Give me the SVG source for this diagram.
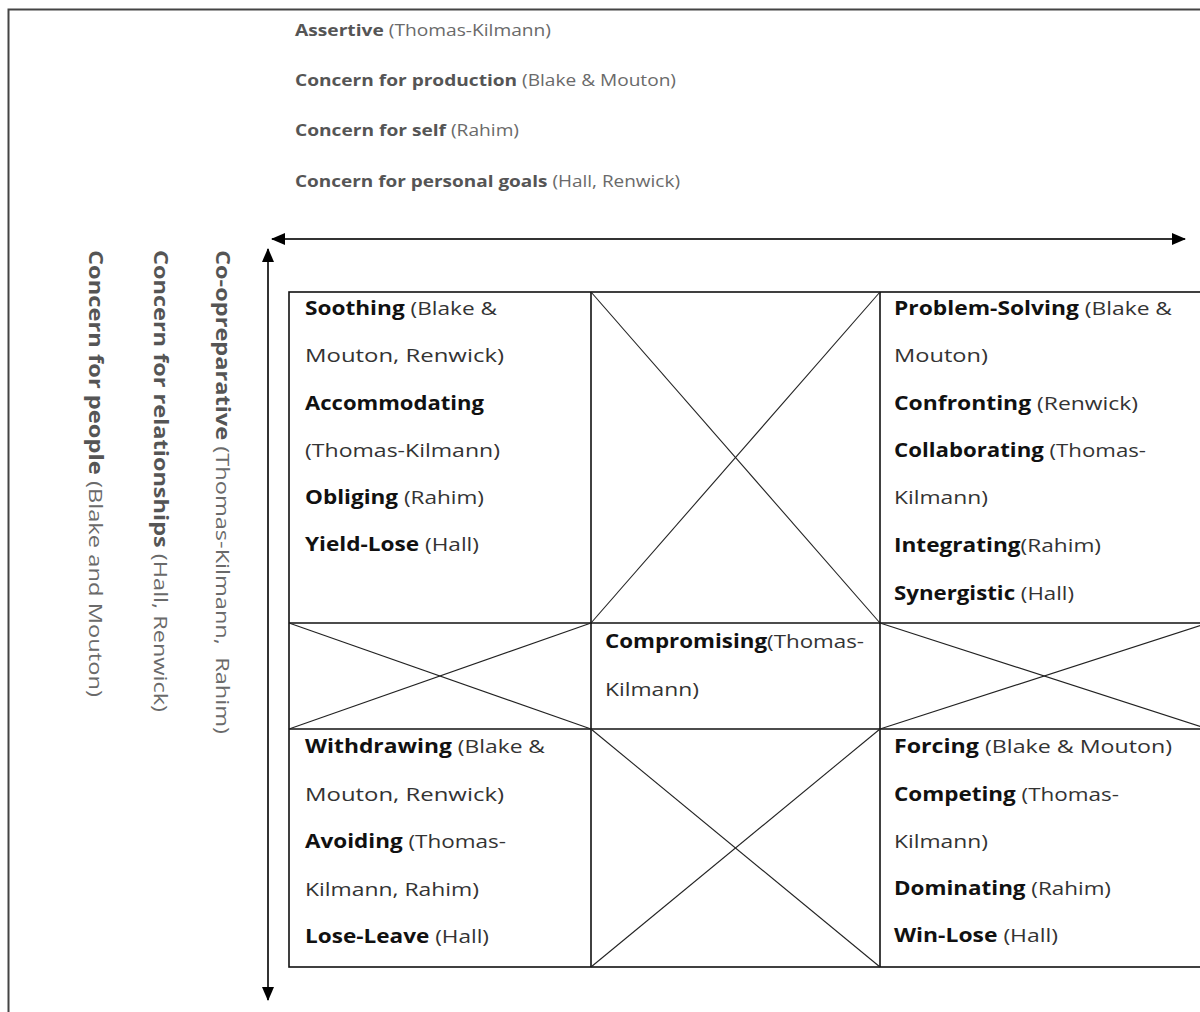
<svg xmlns="http://www.w3.org/2000/svg" width="1200" height="1012" viewBox="0 0 1200 1012">
<style>
.t{font-family:"Open Sans","Liberation Sans",sans-serif;font-size:19px;fill:#333;}
.b{font-weight:700;fill:#111;}
.lab{font-family:"Open Sans","Liberation Sans",sans-serif;font-size:16px;fill:#6a6a6a;}
.vl{font-family:"Open Sans","Liberation Sans",sans-serif;font-size:19px;fill:#6a6a6a;}
.lb{font-weight:700;fill:#555;}
.grid{fill:none;stroke:#111;stroke-width:1.6;}
.diag{stroke:#222;stroke-width:1.1;}
.axis{stroke:#333;stroke-width:2;fill:none;}
</style>
<defs>
<marker id="ah" viewBox="0 0 14 12" refX="13" refY="6" markerWidth="14" markerHeight="12" markerUnits="userSpaceOnUse" orient="auto-start-reverse">
<path d="M0,0 L14,6 L0,12 z" fill="#000"/>
</marker>
</defs>
<rect width="1200" height="1012" fill="#fff"/>
<rect x="8.5" y="9.5" width="1220" height="1030" fill="none" stroke="#444" stroke-width="2"/>

<g id="labels-top">
<text class="lab" x="295" y="36" textLength="256" lengthAdjust="spacingAndGlyphs"><tspan class="lb">Assertive</tspan> (Thomas-Kilmann)</text>
<text class="lab" x="295" y="86" textLength="381" lengthAdjust="spacingAndGlyphs"><tspan class="lb">Concern for production</tspan> (Blake &amp; Mouton)</text>
<text class="lab" x="295" y="136" textLength="224" lengthAdjust="spacingAndGlyphs"><tspan class="lb">Concern for self</tspan> (Rahim)</text>
<text class="lab" x="295" y="187" textLength="385" lengthAdjust="spacingAndGlyphs"><tspan class="lb">Concern for personal goals</tspan> (Hall, Renwick)</text>
</g>

<g id="labels-left">
<text class="vl" transform="translate(216,250) rotate(90)" x="0" y="0" textLength="484" lengthAdjust="spacingAndGlyphs"><tspan class="lb">Co-opreparative</tspan> (Thomas-Kilmann,&#160; Rahim)</text>
<text class="vl" transform="translate(154,250) rotate(90)" x="0" y="0" textLength="462" lengthAdjust="spacingAndGlyphs"><tspan class="lb">Concern for relationships</tspan> (Hall, Renwick)</text>
<text class="vl" transform="translate(89,250) rotate(90)" x="0" y="0" textLength="447" lengthAdjust="spacingAndGlyphs"><tspan class="lb">Concern for people</tspan> (Blake and Mouton)</text>
</g>

<g id="connectors">
<line class="axis" x1="272" y1="239" x2="1185" y2="239" marker-start="url(#ah)" marker-end="url(#ah)"/>
<line class="axis" x1="268" y1="249" x2="268" y2="1000" marker-start="url(#ah)" marker-end="url(#ah)"/>
</g>

<g id="grid">
<rect class="grid" x="289" y="292" width="919" height="675"/>
<line class="grid" x1="591" y1="292" x2="591" y2="967"/>
<line class="grid" x1="880" y1="292" x2="880" y2="967"/>
<line class="grid" x1="289" y1="623" x2="1208" y2="623"/>
<line class="grid" x1="289" y1="729" x2="1208" y2="729"/>
</g>

<g id="cross-top-middle">
<line class="diag" x1="591" y1="292" x2="880" y2="623"/>
<line class="diag" x1="880" y1="292" x2="591" y2="623"/>
</g>
<g id="cross-middle-left">
<line class="diag" x1="289" y1="623" x2="591" y2="729"/>
<line class="diag" x1="591" y1="623" x2="289" y2="729"/>
</g>
<g id="cross-middle-right">
<line class="diag" x1="880" y1="623" x2="1208" y2="729"/>
<line class="diag" x1="1208" y1="623" x2="880" y2="729"/>
</g>
<g id="cross-bottom-middle">
<line class="diag" x1="591" y1="729" x2="880" y2="967"/>
<line class="diag" x1="880" y1="729" x2="591" y2="967"/>
</g>

<g id="cell-top-left">
<text class="t" x="305" y="315" textLength="192" lengthAdjust="spacingAndGlyphs"><tspan class="b">Soothing</tspan> (Blake &amp;</text>
<text class="t" x="305" y="362" textLength="199" lengthAdjust="spacingAndGlyphs">Mouton, Renwick)</text>
<text class="t" x="305" y="410" textLength="179" lengthAdjust="spacingAndGlyphs"><tspan class="b">Accommodating</tspan></text>
<text class="t" x="305" y="457" textLength="195" lengthAdjust="spacingAndGlyphs">(Thomas-Kilmann)</text>
<text class="t" x="305" y="504" textLength="179" lengthAdjust="spacingAndGlyphs"><tspan class="b">Obliging</tspan> (Rahim)</text>
<text class="t" x="305" y="551" textLength="174" lengthAdjust="spacingAndGlyphs"><tspan class="b">Yield-Lose</tspan> (Hall)</text>
</g>

<g id="cell-top-right">
<text class="t" x="894" y="315" textLength="278" lengthAdjust="spacingAndGlyphs"><tspan class="b">Problem-Solving</tspan> (Blake &amp;</text>
<text class="t" x="894" y="362" textLength="94" lengthAdjust="spacingAndGlyphs">Mouton)</text>
<text class="t" x="894" y="410" textLength="244" lengthAdjust="spacingAndGlyphs"><tspan class="b">Confronting</tspan> (Renwick)</text>
<text class="t" x="894" y="457" textLength="252" lengthAdjust="spacingAndGlyphs"><tspan class="b">Collaborating</tspan> (Thomas-</text>
<text class="t" x="894" y="504" textLength="94" lengthAdjust="spacingAndGlyphs">Kilmann)</text>
<text class="t" x="894" y="552" textLength="207" lengthAdjust="spacingAndGlyphs"><tspan class="b">Integrating</tspan>(Rahim)</text>
<text class="t" x="894" y="600" textLength="180" lengthAdjust="spacingAndGlyphs"><tspan class="b">Synergistic</tspan> (Hall)</text>
</g>

<g id="cell-center">
<text class="t" x="605" y="648" textLength="259" lengthAdjust="spacingAndGlyphs"><tspan class="b">Compromising</tspan>(Thomas-</text>
<text class="t" x="605" y="696" textLength="94" lengthAdjust="spacingAndGlyphs">Kilmann)</text>
</g>

<g id="cell-bottom-left">
<text class="t" x="305" y="753" textLength="240" lengthAdjust="spacingAndGlyphs"><tspan class="b">Withdrawing</tspan> (Blake &amp;</text>
<text class="t" x="305" y="801" textLength="199" lengthAdjust="spacingAndGlyphs">Mouton, Renwick)</text>
<text class="t" x="305" y="848" textLength="201" lengthAdjust="spacingAndGlyphs"><tspan class="b">Avoiding</tspan> (Thomas-</text>
<text class="t" x="305" y="896" textLength="174" lengthAdjust="spacingAndGlyphs">Kilmann, Rahim)</text>
<text class="t" x="305" y="943" textLength="184" lengthAdjust="spacingAndGlyphs"><tspan class="b">Lose-Leave</tspan> (Hall)</text>
</g>

<g id="cell-bottom-right">
<text class="t" x="894" y="753" textLength="278" lengthAdjust="spacingAndGlyphs"><tspan class="b">Forcing</tspan> (Blake &amp; Mouton)</text>
<text class="t" x="894" y="801" textLength="225" lengthAdjust="spacingAndGlyphs"><tspan class="b">Competing</tspan> (Thomas-</text>
<text class="t" x="894" y="848" textLength="94" lengthAdjust="spacingAndGlyphs">Kilmann)</text>
<text class="t" x="894" y="895" textLength="217" lengthAdjust="spacingAndGlyphs"><tspan class="b">Dominating</tspan> (Rahim)</text>
<text class="t" x="894" y="942" textLength="164" lengthAdjust="spacingAndGlyphs"><tspan class="b">Win-Lose</tspan> (Hall)</text>
</g>
</svg>
